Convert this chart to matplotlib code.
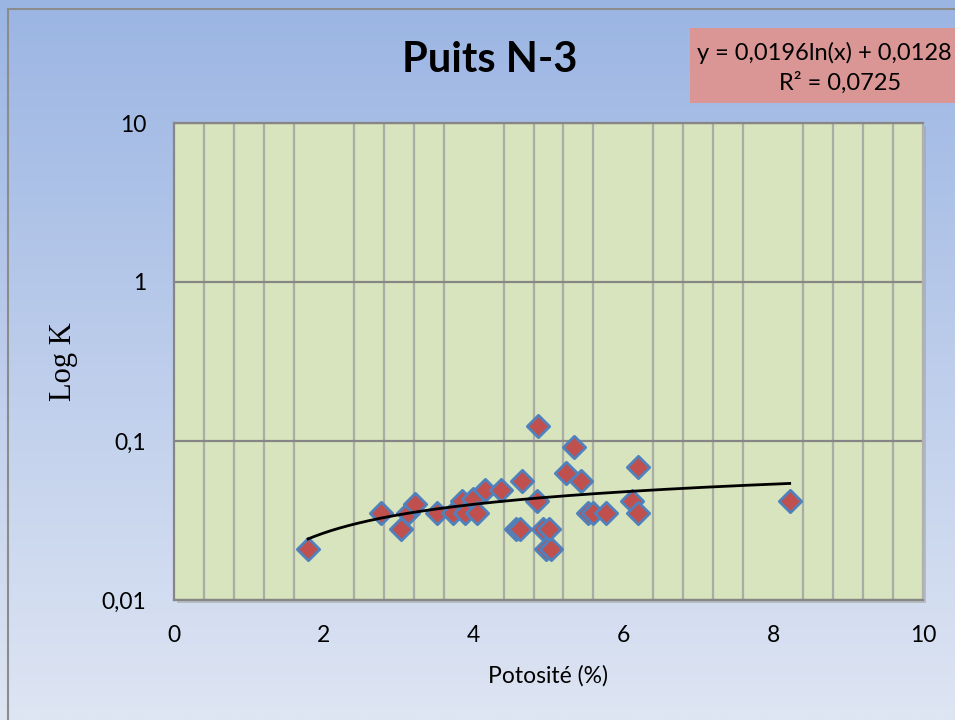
import numpy as np
import matplotlib
matplotlib.use("Agg")
import matplotlib.pyplot as plt
from matplotlib.ticker import FixedLocator, MultipleLocator, NullFormatter, NullLocator
from matplotlib.patches import Rectangle

plt.rcParams['font.family'] = ['Lato', 'DejaVu Sans']

# Porosity (%) and permeability K for well N-3
porosity = [1.79, 2.76, 3.03, 3.12, 3.22, 3.51, 3.72, 3.84, 3.88, 3.99, 4.05,
            4.15, 4.37, 4.57, 4.62, 4.64, 4.86, 4.84, 4.93, 4.96, 5.04, 5.01,
            5.23, 5.34, 5.44, 5.53, 5.60, 5.77, 6.11, 6.19, 6.19, 8.22]
perm_k = [0.021, 0.035, 0.028, 0.035, 0.040, 0.035, 0.035, 0.042, 0.035, 0.043,
          0.035, 0.049, 0.049, 0.028, 0.028, 0.056, 0.124, 0.042, 0.028, 0.021,
          0.021, 0.028, 0.063, 0.092, 0.056, 0.035, 0.035, 0.035, 0.042, 0.069,
          0.035, 0.042]

# Logarithmic trendline coefficients: y = a ln(x) + b
trend_a = 0.0196
trend_b = 0.0128
r_squared = 0.0725

y_ticks = [0.01, 0.1, 1, 10]
y_tick_labels = ["0,01", "0,1", "1", "10"]
x_ticks = [0, 2, 4, 6, 8, 10]

W, H = 955, 720
fig = plt.figure(figsize=(W / 100, H / 100), dpi=100)

# Chart background: vertical blue gradient with a thin grey frame
bg = fig.add_axes([0, 0, 1, 1], zorder=-10)
grad = np.linspace(0, 1, 256).reshape(-1, 1)
top = np.array([0x9B, 0xB5, 0xE3]) / 255
bot = np.array([0xDE, 0xE5, 0xF3]) / 255
img = top[None, None, :] * (1 - grad[:, :, None]) + bot[None, None, :] * grad[:, :, None]
bg.imshow(img, aspect='auto', extent=[0, 1, 0, 1], origin='upper')
bg.add_patch(Rectangle((8 / W, -0.1), 1.2, 1 - 9 / H + 0.1, fill=False,
                       edgecolor='#8C8C8C', lw=1.5, transform=bg.transAxes))
bg.set_xlim(0, 1)
bg.set_ylim(0, 1)
bg.axis('off')

# Plot area
left, right, bottom, topy = 174, 923, 600, 123
pos = [left / W, 1 - bottom / H, (right - left) / W, (bottom - topy) / H]
fig.patches.append(Rectangle((pos[0] + 3 / W, pos[1] - 3 / H), pos[2], pos[3],
                             transform=fig.transFigure, facecolor='#9FA39A',
                             alpha=0.55, zorder=-5))
ax = fig.add_axes(pos)
ax.set_facecolor('#D7E4BD')
ax.set_yscale('log')
ax.set_xlim(0, 10)
ax.set_ylim(0.01, 10)

ax.yaxis.set_major_locator(FixedLocator(y_ticks))
ax.set_yticklabels(y_tick_labels)
ax.yaxis.set_minor_locator(NullLocator())
ax.xaxis.set_major_locator(FixedLocator(x_ticks))
ax.xaxis.set_minor_locator(MultipleLocator(0.4))
ax.xaxis.set_minor_formatter(NullFormatter())
ax.tick_params(axis='both', which='both', length=0, labelsize=16.5, colors='black')
ax.tick_params(axis='x', pad=18)
ax.tick_params(axis='y', pad=20)

ax.grid(True, axis='x', which='minor', color='#A9ADA6', lw=1.6)
ax.grid(True, axis='y', which='major', color='#868686', lw=1.6)
ax.set_axisbelow(True)
for side in ['left', 'top', 'bottom']:
    ax.spines[side].set_color('#868686')
    ax.spines[side].set_linewidth(1.6)
ax.spines['right'].set_color('#B0B0B0')
ax.spines['right'].set_linewidth(1.6)

ax.scatter(porosity, perm_k, marker='D', s=130, facecolor='#C0504D',
           edgecolor='#4F81BD', linewidths=2, zorder=3)

xs = np.linspace(min(porosity), max(porosity), 300)
ax.plot(xs, trend_a * np.log(xs) + trend_b, color='black', lw=2, zorder=4)

ax.set_xlabel("Potosité (%)", fontsize=16.5, labelpad=14)
ax.set_ylabel("Log K", fontsize=22, family=['Liberation Serif', 'DejaVu Serif'],
              labelpad=17)

fig.text(490 / W, 1 - 60 / H, "Puits N-3", fontsize=30, fontweight='bold',
         ha='center', va='center')

# Trendline equation box
eq_box = Rectangle((690 / W, 1 - 103 / H), 300 / W, 75 / H, transform=fig.transFigure,
                   facecolor='#D99694', edgecolor='none', zorder=1)
fig.patches.append(eq_box)
fig.text(697 / W, 1 - 53 / H, "y = 0,0196ln(x) + 0,0128", fontsize=17,
         ha='left', va='center', zorder=2)
fig.text(840 / W, 1 - 83 / H, "R² = 0,0725", fontsize=17,
         ha='center', va='center', zorder=2)

fig.savefig("out.png", dpi=100)
